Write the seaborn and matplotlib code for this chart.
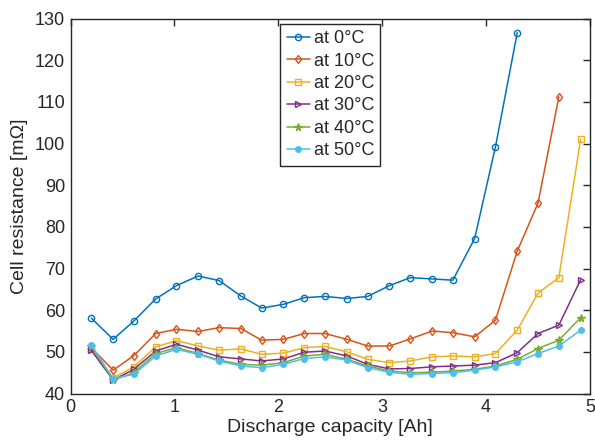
import matplotlib
matplotlib.use("Agg")
import matplotlib.pyplot as plt
import seaborn as sns
import pandas as pd

# Discharge capacity grid [Ah]
capacity = [0.20, 0.41, 0.61, 0.82, 1.02, 1.23, 1.43, 1.64, 1.84, 2.05, 2.25, 2.45,
            2.66, 2.86, 3.07, 3.27, 3.48, 3.68, 3.89, 4.09, 4.30, 4.50, 4.70, 4.91]

# Cell resistance [mOhm] per ambient temperature
r_0C = [58.1, 53.0, 57.4, 62.7, 65.9, 68.2, 67.1, 63.4, 60.5, 61.4, 63.0, 63.3,
        62.8, 63.3, 65.9, 67.8, 67.5, 67.2, 77.2, 99.2, 126.6]
r_10C = [51.0, 45.6, 49.1, 54.4, 55.4, 54.9, 55.8, 55.6, 52.8, 53.0, 54.4, 54.4,
         53.0, 51.4, 51.4, 53.1, 55.0, 54.6, 53.6, 57.6, 74.2, 85.7, 111.2]
r_20C = [50.6, 43.7, 46.4, 51.2, 52.7, 51.4, 50.4, 50.7, 49.4, 49.7, 51.0, 51.3,
         50.0, 48.2, 47.4, 47.8, 48.8, 49.0, 48.8, 49.6, 55.2, 64.1, 67.8, 101.0]
r_30C = [50.4, 43.2, 45.8, 50.2, 51.8, 50.4, 48.8, 48.3, 47.8, 48.3, 49.9, 50.2,
         49.0, 47.0, 45.9, 46.0, 46.4, 46.6, 46.8, 47.4, 49.8, 54.4, 56.4, 67.3]
r_40C = [51.4, 43.2, 45.0, 49.6, 51.0, 49.6, 48.0, 47.0, 46.8, 47.4, 49.0, 49.4,
         48.2, 46.6, 45.4, 45.0, 45.1, 45.4, 45.8, 46.6, 48.2, 50.8, 52.8, 58.2]
r_50C = [51.6, 43.6, 44.6, 49.0, 50.6, 49.4, 47.8, 46.6, 46.2, 47.0, 48.4, 48.8,
         48.0, 46.2, 45.1, 44.6, 44.8, 45.0, 45.6, 46.4, 47.6, 49.6, 51.4, 55.2]

labels = ["at 0\u00b0C", "at 10\u00b0C", "at 20\u00b0C", "at 30\u00b0C", "at 40\u00b0C", "at 50\u00b0C"]
series = [r_0C, r_10C, r_20C, r_30C, r_40C, r_50C]
colors = ["#0072BD", "#D95319", "#EDB120", "#7E2F8E", "#77AC30", "#4DBEEE"]
markers = ["o", "d", "s", ">", "*", "."]

sns.set_style("white")
plt.rcParams["font.family"] = ["Liberation Sans", "DejaVu Sans"]

fig = plt.figure(figsize=(5.95, 4.46), dpi=100)
ax = fig.add_axes([70.5 / 595, (446 - 393.5) / 446, (590 - 70.5) / 595, (393.5 - 18.5) / 446])

for vals, lab, col, mk in zip(series, labels, colors, markers):
    df = pd.DataFrame({"capacity": capacity[:len(vals)], "resistance": vals})
    filled = mk in (".", "*")
    sns.lineplot(data=df, x="capacity", y="resistance", ax=ax, color=col,
                 marker=mk, markersize=(8 if mk == "." else 5.5 if mk == "*" else 4.5),
                 markerfacecolor=(col if filled else "none"), markeredgecolor=col,
                 markeredgewidth=1.0, linewidth=1.1, label=lab, legend=False)

ax.set_xlim(0, 5)
ax.set_ylim(40, 130)
ax.set_xticks(range(0, 6))
ax.set_yticks(range(40, 131, 10))
ax.set_xlabel("Discharge capacity [Ah]", fontsize=14, color="#262626", labelpad=2)
ax.set_ylabel("Cell resistance [m\u03a9]", fontsize=14, color="#262626", labelpad=5)
ax.tick_params(direction="in", length=5, width=1.0, top=True, right=True,
               labelsize=13, colors="#262626", pad=4)
for sp in ax.spines.values():
    sp.set_color("#262626")
    sp.set_linewidth(1.0)

leg = ax.legend(loc="upper center", fontsize=13, handlelength=1.3, handletextpad=0.2,
                borderpad=0.35, labelspacing=0.3, borderaxespad=0.3, fancybox=False,
                framealpha=1.0, edgecolor="#262626")
leg.get_frame().set_linewidth(1.0)
for t in leg.get_texts():
    t.set_color("#262626")

fig.savefig("out.png", dpi=100)
